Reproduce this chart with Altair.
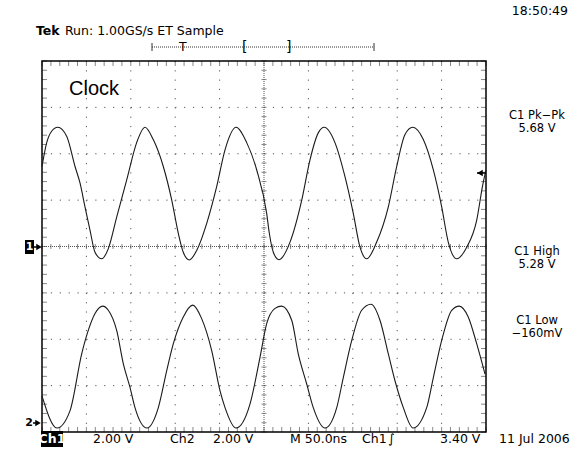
import altair as alt
import pandas as pd
import numpy as np

# ---------------- data ----------------
# Channel 1 (time in ns, volts)
ch1_t = [0, 5.3, 10.9, 17.7, 27.8, 37.2, 42.8, 48.4, 54.1, 59.7, 67.2, 74.7, 84.1, 95.4,
         106.6, 116.0, 125.3, 136.6, 146.1, 153.5, 159.1, 165.9, 174.2, 185.5, 196.7,
         206.1, 218.5, 230.5, 241.8, 253.0, 256.0, 260.5, 266.9, 279.3, 292.5, 301.8,
         311.1, 317.9, 330.0, 341.2, 350.6, 358.1, 365.7, 376.9, 390.0, 399.4, 408.8,
         417.5, 429.4, 440.7, 450.1, 457.5, 467.0, 478.3, 489.5, 496.3, 500.0]
ch1_v = [3.45, 4.48, 4.97, 5.14, 4.75, 3.45, 2.74, 1.71, 0.70, -0.25, -0.53, -0.09, 1.27, 2.87,
         4.48, 5.14, 4.61, 3.45, 2.00, 0.57, -0.25, -0.58, -0.17, 1.00, 2.58,
         4.17, 5.14, 4.48, 3.30, 1.43, 0.57, -0.25, -0.57, 0.19, 2.00, 3.74,
         4.90, 5.14, 4.47, 3.01, 1.42, -0.03, -0.53, 0.19, 1.71, 3.45, 4.83,
         5.14, 4.61, 3.30, 1.71, 0.19, -0.53, -0.03, 1.13, 2.65, 3.30]
# Channel 2 (time in ns, volts)
ch2_t = [0, 16.9, 31.5, 44.7, 52.1, 59.7, 68.4, 74.7, 84.1, 91.6, 99.1, 104.7, 118.2, 131.0,
         140.4, 147.9, 159.1, 169.7, 179.8, 191.1, 200.5, 206.1, 218.5, 234.2, 245.5,
         253.0, 262.4, 269.9, 281.2, 288.6, 298.1, 305.5, 318.7, 331.9, 339.3, 348.8,
         360.0, 370.5, 380.6, 390.0, 397.5, 406.9, 417.8, 433.2, 440.7, 450.1, 461.4,
         469.9, 480.0, 489.5, 498.9]
ch2_v = [1.22, -0.17, 0.57, 3.03, 4.04, 4.77, 5.09, 4.91, 4.04, 2.60, 1.58, 0.71, -0.17, 0.71,
         2.30, 3.47, 4.62, 5.13, 4.55, 3.17, 1.43, 0.71, -0.17, 0.86, 2.88,
         4.33, 4.99, 5.09, 4.48, 3.03, 1.73, 0.71, -0.17, 0.71, 2.01, 3.61,
         4.91, 5.17, 4.48, 3.03, 1.87, 0.71, -0.17, 0.71, 2.01, 3.61, 4.91,
         5.09, 4.62, 3.47, 2.16]

volts_per_div = [2.0, 2.0]          # Ch1, Ch2
ch2_ground_div = -3.83              # position of the "2->" marker
time_per_div = 50.0                 # M 50.0ns

title_label = "Clock"
header_bold = "Tek"
header_text = "Run: 1.00GS/s ET Sample"
clock_time = "18:50:49"
meas_labels = ["C1 Pk\u2212Pk", "5.68 V", "C1 High", "5.28 V", "C1 Low", "\u2212160mV"]
bottom_labels = ["Ch1", "2.00 V", "Ch2", "2.00 V", "M 50.0ns", "Ch1", "\u222b", "3.40 V", "11 Jul 2006"]

# ---------------- layout ----------------
X0, Y0 = 42, 61
W, H = 444, 371
FONT = "DejaVu Sans"

xs = alt.Scale(domain=[0, 10 * time_per_div], nice=False, zero=False)
ys = alt.Scale(domain=[-4, 4], nice=False, zero=False)

wave = pd.DataFrame({
    "t": ch1_t + ch2_t,
    "div": [v / volts_per_div[0] for v in ch1_v] + [v / volts_per_div[1] + ch2_ground_div for v in ch2_v],
    "ch": ["CH1"] * len(ch1_t) + ["CH2"] * len(ch2_t),
})

one = pd.DataFrame({"a": [0]})
X = lambda f: alt.X(f, scale=xs, axis=None)
Y = lambda f: alt.Y(f, scale=ys, axis=None)

major_t = [k * time_per_div for k in range(1, 10) if k != 5]
major_d = [d for d in range(-3, 4) if d != 0]
minor_t = pd.DataFrame({"t": np.arange(0, 500.01, 10.0), "d": 0.0})
minor_d = pd.DataFrame({"d": np.arange(-4, 4.01, 0.2), "t": 250.0})

GRID = "#555"
layers = []
# dotted grid
layers.append(alt.Chart(pd.DataFrame({"t": major_t})).mark_rule(
    color=GRID, strokeWidth=1, strokeDash=[1.2, 8.075]).encode(x=X("t:Q"), y=alt.value(0), y2=alt.value(H)))
layers.append(alt.Chart(pd.DataFrame({"d": major_d})).mark_rule(
    color=GRID, strokeWidth=1, strokeDash=[1.2, 7.68]).encode(y=Y("d:Q"), x=alt.value(0), x2=alt.value(W)))
# centre crosshair
layers.append(alt.Chart(one).mark_rule(color=GRID, strokeWidth=1, strokeDash=[1, 1]).encode(
    x=alt.value(W / 2), y=alt.value(0), y2=alt.value(H)))
layers.append(alt.Chart(one).mark_rule(color=GRID, strokeWidth=1, strokeDash=[1, 1]).encode(
    y=alt.value(H / 2), x=alt.value(0), x2=alt.value(W)))
layers.append(alt.Chart(minor_t).mark_tick(orient="vertical", size=5, thickness=1, color=GRID).encode(
    x=X("t:Q"), y=Y("d:Q")))
layers.append(alt.Chart(minor_d).mark_tick(orient="horizontal", size=5, thickness=1, color=GRID).encode(
    y=Y("d:Q"), x=X("t:Q")))
# border ticks
layers.append(alt.Chart(minor_t).mark_tick(orient="vertical", size=5, thickness=1, color=GRID).encode(
    x=X("t:Q"), y=alt.value(2.5)))
layers.append(alt.Chart(minor_t).mark_tick(orient="vertical", size=5, thickness=1, color=GRID).encode(
    x=X("t:Q"), y=alt.value(H - 2.5)))
layers.append(alt.Chart(minor_d).mark_tick(orient="horizontal", size=5, thickness=1, color=GRID).encode(
    y=Y("d:Q"), x=alt.value(2.5)))
layers.append(alt.Chart(minor_d).mark_tick(orient="horizontal", size=5, thickness=1, color=GRID).encode(
    y=Y("d:Q"), x=alt.value(W - 2.5)))
# frame
layers.append(alt.Chart(one).mark_rect(filled=False, stroke="black", strokeWidth=1.5).encode(
    x=alt.value(0), x2=alt.value(W), y=alt.value(0), y2=alt.value(H)))
# waveforms
layers.append(alt.Chart(wave).mark_line(color="#1a1a1a", strokeWidth=1.1, interpolate="monotone").encode(
    x=X("t:Q"), y=Y("div:Q"), detail="ch:N", order="t:Q"))


def txt(s, x, y, size=12.5, font=FONT, weight="normal", align="left", color="black", baseline="middle"):
    return alt.Chart(one).mark_text(text=s, fontSize=size, font=font, fontWeight=weight, align=align,
                                    baseline=baseline, color=color).encode(
        x=alt.value(x - X0), y=alt.value(y - Y0))


def box(x1, x2, y1, y2):
    return alt.Chart(one).mark_rect(color="black").encode(
        x=alt.value(x1 - X0), x2=alt.value(x2 - X0), y=alt.value(y1 - Y0), y2=alt.value(y2 - Y0))


def hline(x1, x2, y, dash=None, width=1, color="#333"):
    kw = {"strokeDash": dash} if dash else {}
    return alt.Chart(one).mark_rule(color=color, strokeWidth=width, **kw).encode(
        x=alt.value(x1 - X0), x2=alt.value(x2 - X0), y=alt.value(y - Y0))


def vline(x, y1, y2):
    return alt.Chart(one).mark_rule(color="#333", strokeWidth=1).encode(
        x=alt.value(x - X0), y=alt.value(y1 - Y0), y2=alt.value(y2 - Y0))


def arrow(x1, x2, y, direction="right"):
    shape = "triangle-right" if direction == "right" else "triangle-left"
    tip = x2 - 3 if direction == "right" else x1 + 3
    head = alt.Chart(one).mark_point(shape=shape, filled=True, size=40, color="black", opacity=1,
                                     strokeWidth=0).encode(x=alt.value(tip - X0), y=alt.value(y - Y0))
    return [hline(x1, x2 - 2 if direction == "right" else x2, y, width=1.5, color="black"), head]


# header
layers.append(txt(clock_time, 568, 11, size=12.5, align="right"))
layers.append(txt(header_bold, 36, 31, size=12.5, weight="bold"))
layers.append(txt(header_text, 65, 31, size=12.5))
layers.append(hline(152, 374, 47, dash=[1, 1]))
layers.append(vline(152, 43, 51))
layers.append(vline(374, 43, 51))
layers.append(txt("T", 179, 47, size=12.5))
layers.append(txt("[", 242, 47, size=14))
layers.append(txt("]", 286, 47, size=14))
layers.append(txt(title_label, 69, 89, size=20, font="Liberation Sans"))

# channel markers
layers.append(box(25, 34, 240, 254))
layers.append(txt("1", 29.5, 247, size=11, weight="bold", align="center", color="white"))
layers += arrow(34, 42, 247, "right")
layers.append(txt("2", 29, 423, size=11, weight="bold", align="center"))
layers += arrow(33, 41, 423, "right")
layers += arrow(477, 486, 173, "left")

# measurements
mx = 537
for lab, yy in zip(meas_labels, [116, 129, 252, 265, 321, 334]):
    layers.append(txt(lab, mx, yy, size=11.5, align="center"))

# bottom status line
by = 439
layers.append(box(41, 63, 431, 447))
layers.append(txt(bottom_labels[0], 52, by, size=12.5, weight="bold", align="center", color="white"))
for lab, xx in zip(bottom_labels[1:], [93, 170, 213, 290, 362, 388, 440, 499]):
    layers.append(txt(lab, xx, by, size=12.5))

chart = alt.layer(*layers).properties(
    width=W, height=H,
    padding={"left": X0, "top": Y0, "right": 572 - X0 - W, "bottom": 455 - Y0 - H},
    autosize=alt.AutoSizeParams(type="none"),
    background="white",
).configure_view(stroke=None)

chart.save("out.html", embed_options={"renderer": "svg", "actions": False})
